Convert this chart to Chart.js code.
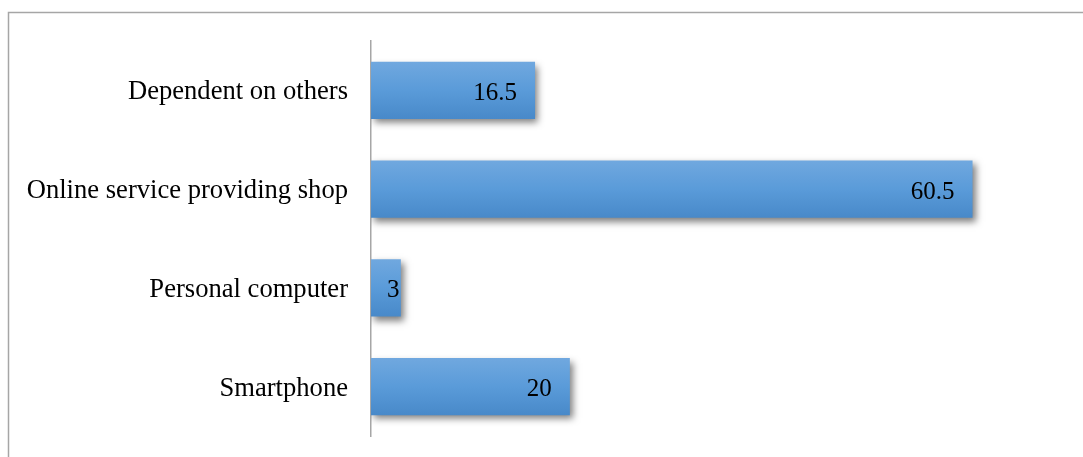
<!DOCTYPE html>
<html>
<head>
<meta charset="utf-8">
<script src="https://cdn.jsdelivr.net/npm/chart.js@4/dist/chart.umd.min.js"></script>
<style>
  html, body { margin: 0; padding: 0; background: #fff; }
  #wrap { position: relative; width: 1083px; height: 457px; }
</style>
</head>
<body>
<div id="wrap"><canvas id="devices" width="1083" height="457"></canvas></div>
<script>
const categories = ['Dependent on others', 'Online service providing shop', 'Personal computer', 'Smartphone'];
const shares = [16.5, 60.5, 3, 20];
const axisMax = 70;

const serif = '"Liberation Serif", "Times New Roman", serif';

// outer frame: top and left edges only
const frame = {
  id: 'frame',
  beforeDraw(chart) {
    const ctx = chart.ctx;
    ctx.save();
    ctx.strokeStyle = '#a6a6a6';
    ctx.lineWidth = 1.5;
    ctx.beginPath();
    ctx.moveTo(1083, 12.5);
    ctx.lineTo(8.5, 12.5);
    ctx.lineTo(8.5, 457);
    ctx.stroke();
    ctx.restore();
  }
};

// vertical gradient on each bar plus a soft drop shadow
const barLook = {
  id: 'barLook',
  beforeDatasetDraw(chart, args) {
    const ctx = chart.ctx;
    args.meta.data.forEach(bar => {
      const top = bar.y - bar.height / 2;
      const g = ctx.createLinearGradient(0, top, 0, top + bar.height);
      g.addColorStop(0, '#70a8df');
      g.addColorStop(0.5, '#5a9bd9');
      g.addColorStop(1, '#4889c9');
      bar.options.backgroundColor = g;
    });
    ctx.save();
    ctx.shadowColor = 'rgba(0,0,0,0.5)';
    ctx.shadowBlur = 7;
    ctx.shadowOffsetX = 3;
    ctx.shadowOffsetY = 4;
  },
  afterDatasetDraw(chart) {
    chart.ctx.restore();
  }
};

// value labels just inside the end of each bar
const valueLabels = {
  id: 'valueLabels',
  afterDatasetsDraw(chart) {
    const ctx = chart.ctx;
    const base = chart.scales.x.getPixelForValue(0);
    ctx.save();
    ctx.font = '25px ' + serif;
    ctx.fillStyle = '#000';
    ctx.textAlign = 'right';
    ctx.textBaseline = 'middle';
    chart.getDatasetMeta(0).data.forEach((bar, i) => {
      const txt = String(shares[i]);
      const w = ctx.measureText(txt).width;
      const x = Math.max(bar.x - 18, base + w + 16);
      ctx.fillText(txt, x, bar.y + 3);
    });
    ctx.restore();
  }
};

new Chart(document.getElementById('devices'), {
  type: 'bar',
  data: {
    labels: categories,
    datasets: [{
      data: shares,
      // scriptable so every bar keeps its own options object
      backgroundColor: () => '#5a9bd9',
      borderWidth: 0,
      barPercentage: 0.58,
      categoryPercentage: 1
    }]
  },
  options: {
    indexAxis: 'y',
    responsive: false,
    animation: false,
    layout: { padding: { top: 41, bottom: 21, right: 16, left: 0 } },
    plugins: { legend: { display: false }, tooltip: { enabled: false } },
    scales: {
      x: {
        min: 0,
        max: axisMax,
        display: false
      },
      y: {
        grid: { display: false, drawTicks: false },
        border: { display: true, color: '#a6a6a6', width: 1.5 },
        ticks: {
          color: '#000',
          padding: 23,
          labelOffset: 2,
          font: { family: serif, size: 26.6 }
        },
        afterFit(scale) {
          scale.width = 371;
          scale.paddingTop = 0;
          scale.paddingBottom = 0;
        }
      }
    }
  },
  plugins: [frame, barLook, valueLabels]
});
</script>
</body>
</html>
